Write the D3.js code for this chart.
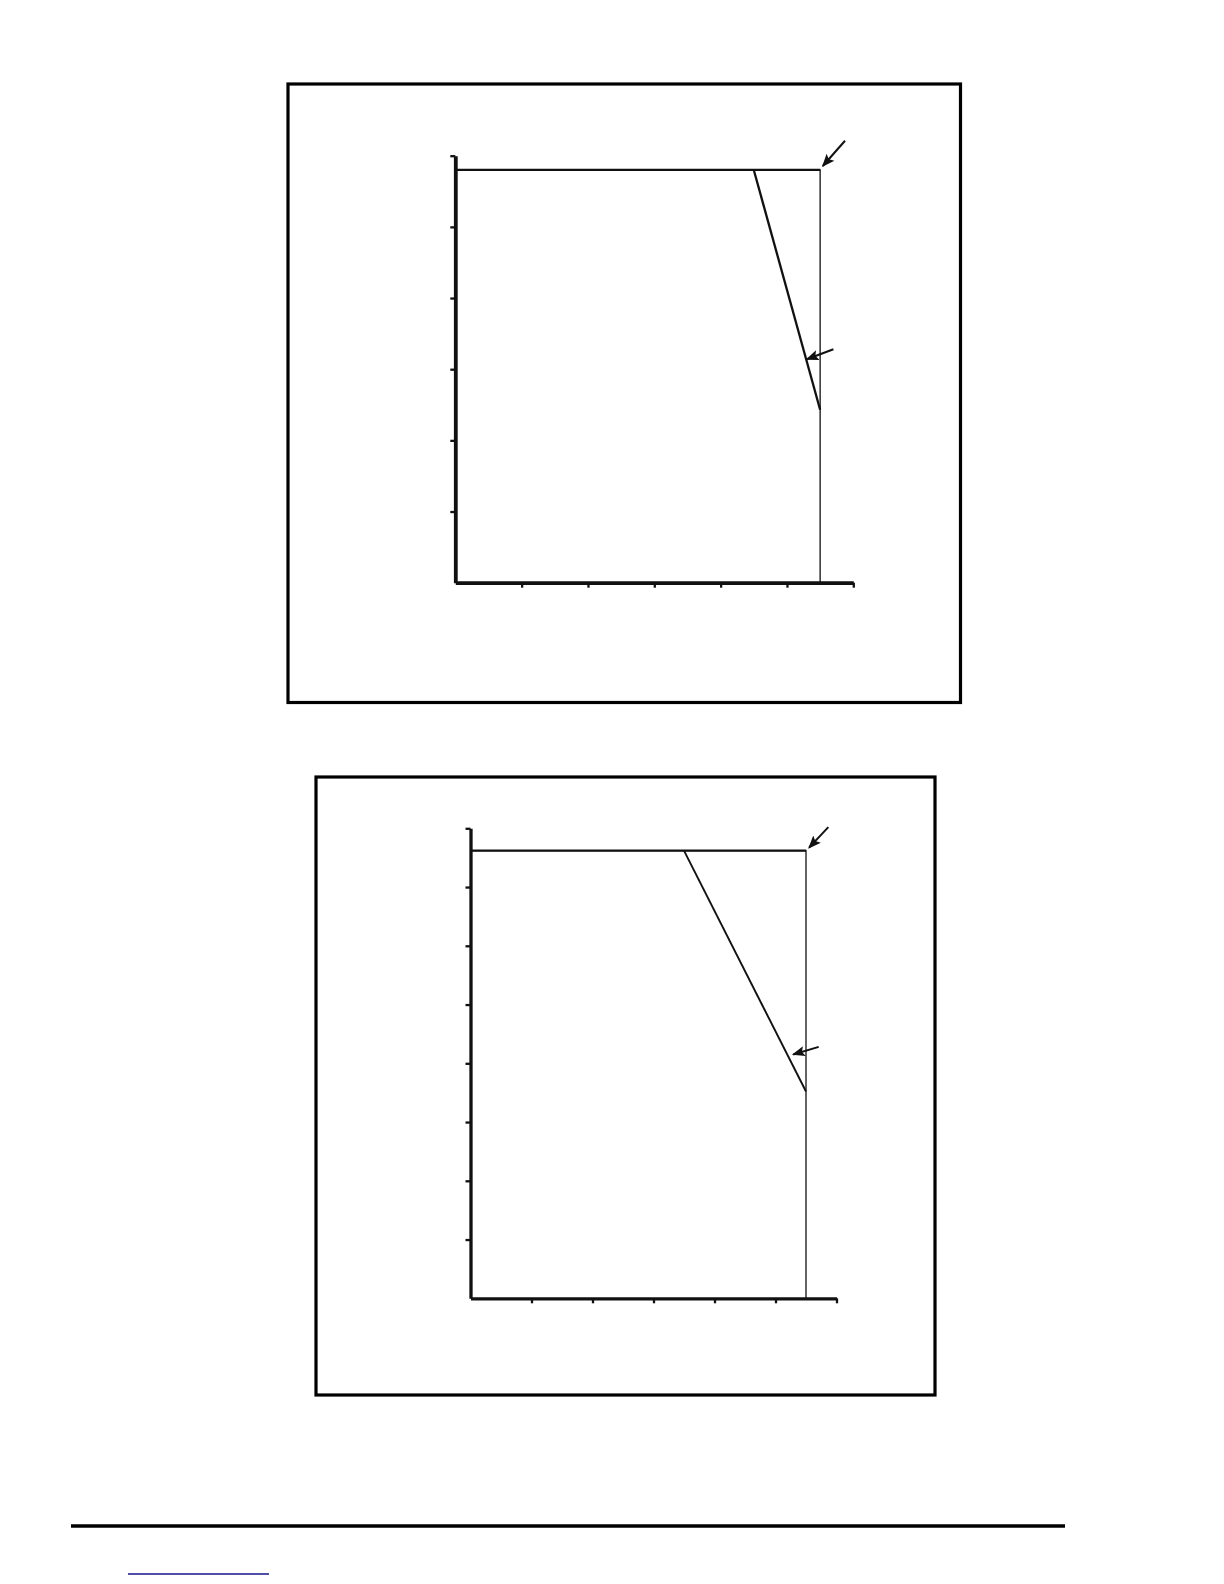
<!DOCTYPE html>
<html>
<head>
<meta charset="utf-8">
<script src="https://cdn.jsdelivr.net/npm/d3@7"></script>
<style>
  body { margin: 0; background: #fff; }
  svg { display: block; }
</style>
</head>
<body>
<svg id="page" width="1224" height="1584"></svg>
<script>
// x ticks shared by both panels (unlabelled in the source)
const xTicks = [0, 1, 2, 3, 4, 5, 6]

// top panel
const top_yTicks = [0, 1, 2, 3, 4, 5, 6]
const top_limit = [[0, 5.8], [5.5, 5.8], [5.5, 0]]
const top_taper = [[4.5, 5.8], [5.5, 2.43]]
const top_arrows = [
    [[5.875, 6.21], [5.54, 5.855]],
    [[5.70, 3.28], [5.30, 3.14]]
]

// bottom panel
const bot_yTicks = [0, 1, 2, 3, 4, 5, 6, 7, 8]
const bot_limit = [[0, 7.62], [5.5, 7.62], [5.5, 0]]
const bot_taper = [[3.5, 7.62], [5.5, 3.52]]
const bot_arrows = [
    [[5.866, 8.02], [5.55, 7.67]],
    [[5.708, 4.28], [5.29, 4.15]]
]

const svg = d3.select("#page")

svg.append("defs").append("marker")
    .attr("id", "head")
    .attr("markerUnits", "userSpaceOnUse")
    .attr("viewBox", "0 0 10 10")
    .attr("refX", 9)
    .attr("refY", 5)
    .attr("markerWidth", 13)
    .attr("markerHeight", 13)
    .attr("orient", "auto")
    .append("path")
    .attr("d", "M0,1 L10,5 L0,9 L2,5 Z")
    .attr("fill", "#111")

function panel(cfg) {
    // frame around the figure
    svg.append("rect")
        .attr("x", cfg.frame[0])
        .attr("y", cfg.frame[1])
        .attr("width", cfg.frame[2] - cfg.frame[0])
        .attr("height", cfg.frame[3] - cfg.frame[1])
        .attr("fill", "none")
        .attr("stroke", "#000")
        .attr("stroke-width", 3.2)

    const x = d3.scaleLinear().domain([0, 6]).range(cfg.xr)
    const y = d3.scaleLinear().domain([0, d3.max(cfg.yTicks)]).range(cfg.yr)
    const g = svg.append("g")

    const line = d3.line().x(d => x(d[0])).y(d => y(d[1]))

    g.append("path")
        .datum(cfg.limit)
        .attr("d", line)
        .attr("fill", "none")
        .attr("stroke", "#111")
        .attr("stroke-width", 1.3)

    // the top edge is drawn a bit heavier
    g.append("path")
        .datum(cfg.limit.slice(0, 2))
        .attr("d", line)
        .attr("fill", "none")
        .attr("stroke", "#111")
        .attr("stroke-width", 2.3)

    g.append("path")
        .datum(cfg.taper)
        .attr("d", line)
        .attr("fill", "none")
        .attr("stroke", "#111")
        .attr("stroke-width", cfg.taperWidth)

    const xAxis = g.append("g")
        .attr("transform", `translate(0,${cfg.yr[0]})`)
        .call(d3.axisBottom(x).tickValues(xTicks).tickFormat("").tickSize(5).tickSizeOuter(0))
    const yAxis = g.append("g")
        .attr("transform", `translate(${cfg.xr[0]},0)`)
        .call(d3.axisLeft(y).tickValues(cfg.yTicks).tickFormat("").tickSize(5).tickSizeOuter(0))

    for (const a of [xAxis, yAxis]) {
        a.select(".domain").attr("stroke", "#111").attr("stroke-width", cfg.axisWidth)
        a.selectAll(".tick line").attr("stroke", "#111").attr("stroke-width", 2.3)
    }
    xAxis.selectAll(".tick").filter(d => d === 0).remove()
    yAxis.selectAll(".tick").filter(d => d === 0).remove()

    g.selectAll("line.arrow")
        .data(cfg.arrows)
        .enter()
        .append("line")
        .attr("class", "arrow")
        .attr("x1", d => x(d[0][0]))
        .attr("y1", d => y(d[0][1]))
        .attr("x2", d => x(d[1][0]))
        .attr("y2", d => y(d[1][1]))
        .attr("stroke", "#111")
        .attr("stroke-width", 2)
        .attr("marker-end", "url(#head)")
}

panel({
    frame: [288, 84, 960.5, 702.5],
    xr: [455.3, 853.3],
    yr: [582.7, 155.7],
    yTicks: top_yTicks,
    limit: top_limit,
    taper: top_taper,
    arrows: top_arrows,
    axisWidth: 3.8,
    taperWidth: 2.3
})

panel({
    frame: [316, 777, 935, 1395],
    xr: [470.5, 836.5],
    yr: [1298.3, 828.3],
    yTicks: bot_yTicks,
    limit: bot_limit,
    taper: bot_taper,
    arrows: bot_arrows,
    axisWidth: 3.3,
    taperWidth: 1.9
})

// page footer rule and link underline
svg.append("line")
    .attr("x1", 71).attr("x2", 1065)
    .attr("y1", 1526).attr("y2", 1526)
    .attr("stroke", "#000")
    .attr("stroke-width", 3.5)

svg.append("line")
    .attr("x1", 128).attr("x2", 269)
    .attr("y1", 1574).attr("y2", 1574)
    .attr("stroke", "#14148a")
    .attr("stroke-width", 1.4)
</script>
</body>
</html>
